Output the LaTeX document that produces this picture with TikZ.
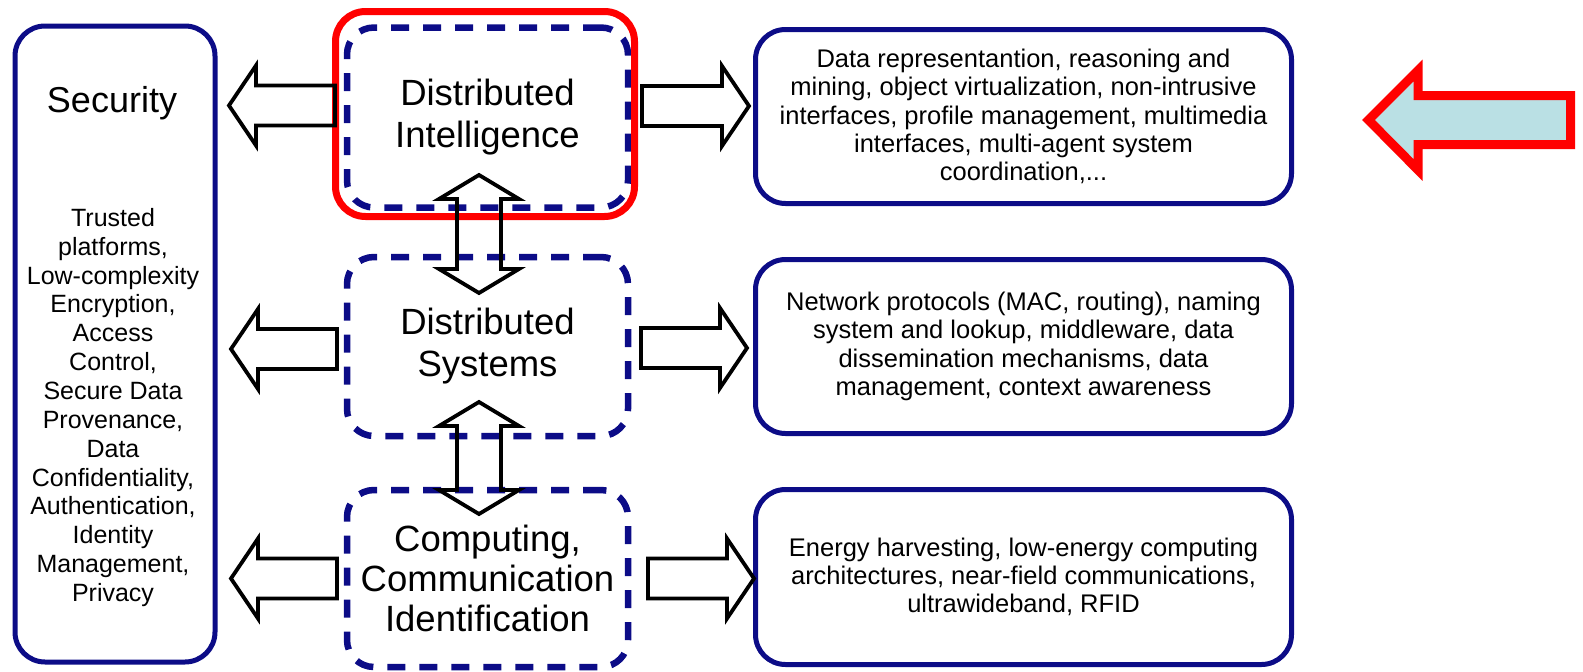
\documentclass[tikz,border=0pt]{standalone}
\usepackage{fontspec}
\setmainfont{Liberation Sans}
\usetikzlibrary{calc}
\definecolor{navy}{RGB}{12,12,135}
\definecolor{hlred}{RGB}{255,0,0}
\definecolor{hlfill}{RGB}{186,224,228}
% horizontal hollow block arrow: #1 tail, #2 tip
\newcommand\hollowH[2]{%
  \draw[blockarr] let \p1=(#1),\p2=(#2),\p3=($(#2)!27pt!(#1)$) in
   (\x1,\y1+20pt) -- (\x3,\y1+20pt) -- (\x3,\y1+40pt) -- (\x2,\y2)
   -- (\x3,\y1-40pt) -- (\x3,\y1-20pt) -- (\x1,\y1-20pt) -- cycle;}
% vertical hollow double arrow: #1 top tip, #2 bottom tip
\newcommand\hollowV[2]{%
  \draw[blockarr] let \p1=(#1),\p2=(#2),\p3=($(#1)!24pt!(#2)$),\p4=($(#2)!24pt!(#1)$) in
   (\x1,\y1) -- (\x1+40pt,\y3) -- (\x1+22pt,\y3) -- (\x1+22pt,\y4) -- (\x1+40pt,\y4)
   -- (\x2,\y2) -- (\x1-40pt,\y4) -- (\x1-22pt,\y4) -- (\x1-22pt,\y3) -- (\x1-40pt,\y3) -- cycle;}
\begin{document}
\begin{tikzpicture}[x=1pt,y=-1pt,
  solidbox/.style={draw=navy,line width=5pt,rounded corners=30pt,inner sep=0pt,outer sep=0pt},
  dashbox/.style={draw=navy,line width=6.5pt,dash pattern=on 18pt off 14pt,rounded corners=27pt,
     minimum width=281pt,inner sep=0pt,outer sep=0pt,align=center,font=\fontsize{36.5}{42}\selectfont},
  rightbox/.style={solidbox,minimum width=536pt,minimum height=174pt,align=center,
     font=\fontsize{25.5}{28.3}\selectfont},
  blockarr/.style={draw=black,line width=3.8pt,line join=miter},
  hlbox/.style={draw=hlred,line width=7pt,rounded corners=30pt,inner sep=0pt},
  bigarrow/.style={draw=hlred,fill=hlfill,line width=9pt,line join=miter}]
\useasboundingbox (0,0) rectangle (1583,672);

% Security column
\node[solidbox,minimum width=200pt,minimum height=636pt] (sec) at (115,344) {};
\node[font=\fontsize{36}{40}\selectfont] (sectitle) at (112,103) {Security};
\node[font=\fontsize{25}{28.85}\selectfont,align=center] (seclist) at (113,407.5)
  {Trusted\\platforms,\\Low-complexity\\Encryption,\\Access\\Control,\\Secure Data\\Provenance,\\Data\\Confidentiality,\\Authentication,\\Identity\\Management,\\Privacy};

% middle dashed boxes
\node[dashbox,minimum height=180pt] (di) at (487.5,117.5) {Distributed\\Intelligence};
\node[dashbox,minimum height=179pt] (ds) at (487.5,346.5) {Distributed\\Systems};
\node[dashbox,minimum height=177pt,font=\fontsize{36.5}{40}\selectfont] (cci) at (487.5,578.5) {Computing,\\Communication\\Identification};

% highlight
\node[hlbox,minimum width=299pt,minimum height=205pt] (hl) at (485,114) {};

% right boxes
\node[rightbox] (r1) at (1023.5,116.5) {Data representantion, reasoning and\\mining, object virtualization, non-intrusive\\interfaces, profile management, multimedia\\interfaces, multi-agent system\\coordination,...};
\node[rightbox] (r2) at (1023.5,346.5) {Network protocols (MAC, routing), naming\\system and lookup, middleware, data\\dissemination mechanisms, data\\management, context awareness};
\node[rightbox,minimum height=175pt] (r3) at (1023.5,577) {Energy harvesting, low-energy computing\\architectures, near-field communications,\\ultrawideband, RFID};

% arrow end points
\coordinate (l1t) at (335,105.5); \coordinate (l1h) at (229,105.5);
\coordinate (l2t) at (337,349);   \coordinate (l2h) at (231,349);
\coordinate (l3t) at (337,578.5); \coordinate (l3h) at (231,578.5);
\coordinate (r1t) at (642,106);   \coordinate (r1h) at (749,106);
\coordinate (r2t) at (641,348);   \coordinate (r2h) at (747,348);
\coordinate (r3t) at (648,578.5); \coordinate (r3h) at (754,578.5);
\coordinate (v1a) at (479,175);   \coordinate (v1b) at (479,293);
\coordinate (v2a) at (479,402);   \coordinate (v2b) at (479,514);

\hollowH{l1t}{l1h}
\hollowH{l2t}{l2h}
\hollowH{l3t}{l3h}
\hollowH{r1t}{r1h}
\hollowH{r2t}{r2h}
\hollowH{r3t}{r3h}
\hollowV{v1a}{v1b}
\hollowV{v2a}{v2b}

% big pointer arrow
\draw[bigarrow] (1368.5,120) -- (1418,70.5) -- (1418,95.5) -- (1570.5,95.5)
  -- (1570.5,144.5) -- (1418,144.5) -- (1418,170) -- cycle;
\end{tikzpicture}
\end{document}
